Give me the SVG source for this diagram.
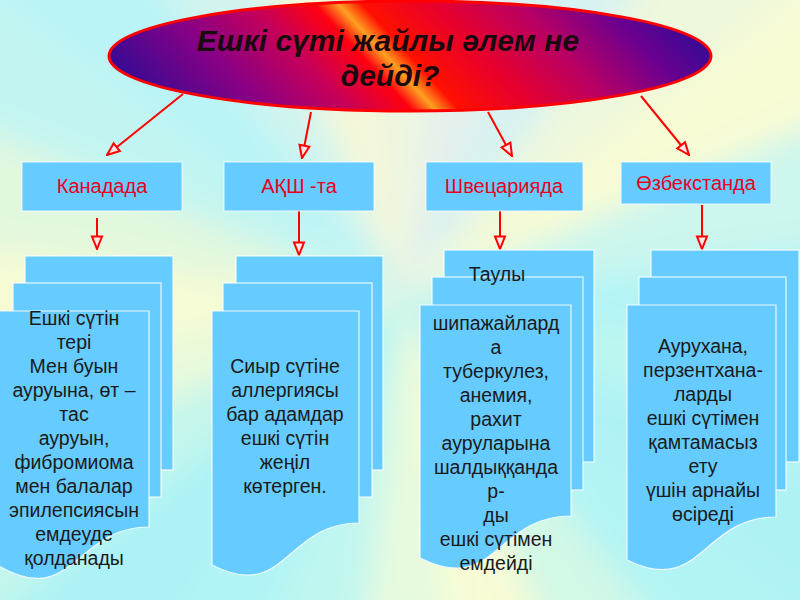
<svg xmlns="http://www.w3.org/2000/svg" xmlns:xlink="http://www.w3.org/1999/xlink" width="800" height="600" viewBox="0 0 800 600">
<defs>
<style>
.hdr{fill:#66CCFF;stroke:#FFFFFF;stroke-width:1;stroke-opacity:0.8}
.doc{fill:#66CCFF;stroke:#FFFFFF;stroke-width:1.2;stroke-opacity:0.85}
.ht{font-family:"Liberation Sans",Arial,sans-serif;font-size:20px;fill:#E8001C;text-anchor:middle}
.bt{font-family:"Liberation Sans",Arial,sans-serif;font-size:19.5px;fill:#1A1A1A;text-anchor:middle}
.tt{font-family:"Liberation Sans",Arial,sans-serif;font-size:30px;font-weight:bold;font-style:italic;fill:#1A0A10;text-anchor:middle}
.con{stroke:#FF0000;stroke-width:2;fill:none;marker-end:url(#ah)}
</style>
<marker id="ah" markerUnits="userSpaceOnUse" markerWidth="15" markerHeight="15" viewBox="0 0 12 10" refX="11" refY="5" orient="auto">
<path d="M1,1 L11,5 L1,9 Z" fill="#FFE6E6" stroke="#FF0000" stroke-width="1.6"/>
</marker>
<linearGradient id="eg" gradientUnits="userSpaceOnUse" x1="108" y1="56" x2="435" y2="-245">
<stop offset="0" stop-color="#3A0A94"/>
<stop offset="0.18" stop-color="#8A0084"/>
<stop offset="0.32" stop-color="#C80058"/>
<stop offset="0.42" stop-color="#FF0010"/>
<stop offset="0.46" stop-color="#FFA020"/>
<stop offset="0.5" stop-color="#FF1000"/>
<stop offset="0.62" stop-color="#E8002C"/>
<stop offset="0.76" stop-color="#B80064"/>
<stop offset="0.9" stop-color="#6A0090"/>
<stop offset="1" stop-color="#3A0A94"/>
</linearGradient>
<path id="w" d="M0,0 L900,-127 L900,127 Z"/>
<filter id="bl" filterUnits="userSpaceOnUse" x="-200" y="-200" width="1200" height="1000">
<feGaussianBlur stdDeviation="16"/>
</filter>
</defs>

<g id="background">
<rect x="0" y="0" width="800" height="600" fill="#BFF5F3"/>
<g filter="url(#bl)">
<use xlink:href="#w" href="#w" transform="translate(403,300) rotate(0)" fill="#B4F4F6"/>
<use xlink:href="#w" href="#w" transform="translate(403,300) rotate(15)" fill="#BCF6F0"/>
<use xlink:href="#w" href="#w" transform="translate(403,300) rotate(30)" fill="#AFF2F6"/>
<use xlink:href="#w" href="#w" transform="translate(403,300) rotate(45)" fill="#B2F4F4"/>
<use xlink:href="#w" href="#w" transform="translate(403,300) rotate(60)" fill="#D2F8E6"/>
<use xlink:href="#w" href="#w" transform="translate(403,300) rotate(75)" fill="#F8FBD4"/>
<use xlink:href="#w" href="#w" transform="translate(403,300) rotate(90)" fill="#E6FADE"/>
<use xlink:href="#w" href="#w" transform="translate(403,300) rotate(105)" fill="#C0F6F0"/>
<use xlink:href="#w" href="#w" transform="translate(403,300) rotate(120)" fill="#B0F4F6"/>
<use xlink:href="#w" href="#w" transform="translate(403,300) rotate(135)" fill="#ACF2F6"/>
<use xlink:href="#w" href="#w" transform="translate(403,300) rotate(150)" fill="#C4F6EC"/>
<use xlink:href="#w" href="#w" transform="translate(403,300) rotate(165)" fill="#EAFADA"/>
<use xlink:href="#w" href="#w" transform="translate(403,300) rotate(180)" fill="#F6FBD4"/>
<use xlink:href="#w" href="#w" transform="translate(403,300) rotate(195)" fill="#E2F8DE"/>
<use xlink:href="#w" href="#w" transform="translate(403,300) rotate(210)" fill="#C2F5F2"/>
<use xlink:href="#w" href="#w" transform="translate(403,300) rotate(225)" fill="#BAF4F6"/>
<use xlink:href="#w" href="#w" transform="translate(403,300) rotate(240)" fill="#D2F4EE"/>
<use xlink:href="#w" href="#w" transform="translate(403,300) rotate(255)" fill="#F6F8D8"/>
<use xlink:href="#w" href="#w" transform="translate(403,300) rotate(270)" fill="#EEF6E0"/>
<use xlink:href="#w" href="#w" transform="translate(403,300) rotate(285)" fill="#E6F0EC"/>
<use xlink:href="#w" href="#w" transform="translate(403,300) rotate(300)" fill="#D6F2F2"/>
<use xlink:href="#w" href="#w" transform="translate(403,300) rotate(315)" fill="#EEF8DC"/>
<use xlink:href="#w" href="#w" transform="translate(403,300) rotate(330)" fill="#F8FBD4"/>
<use xlink:href="#w" href="#w" transform="translate(403,300) rotate(345)" fill="#CCF6EE"/>
</g>
</g>

<g id="title">
<ellipse cx="410" cy="56" rx="301" ry="55" fill="url(#eg)" stroke="#FF0000" stroke-width="3"/>
<text class="tt" x="388" y="51">Ешкі сүті жайлы әлем не</text>
<text class="tt" x="390" y="86">дейді?</text>
</g>

<g id="connectors">
<path class="con" d="M183,94 L107,155"/>
<path class="con" d="M311,112 L302,158"/>
<path class="con" d="M488,112 L512,156"/>
<path class="con" d="M641,96 L689,155"/>
<path class="con" d="M97,218 L97,249"/>
<path class="con" d="M299,211 L299,255"/>
<path class="con" d="M500,211 L500,249"/>
<path class="con" d="M702,205 L702,249"/>
</g>

<g id="h-canada">
<rect class="hdr" x="22" y="162" width="160" height="49"/>
<text class="ht" x="102" y="193">Канадада</text>
</g>
<g id="h-usa">
<rect class="hdr" x="224" y="162" width="150" height="49"/>
<text class="ht" x="299" y="193">АҚШ -та</text>
</g>
<g id="h-swiss">
<rect class="hdr" x="426" y="162" width="157" height="49"/>
<text class="ht" x="504" y="193">Швецарияда</text>
</g>
<g id="h-uzbek">
<rect class="hdr" x="621" y="162" width="150" height="42"/>
<text class="ht" x="696" y="190">Өзбекстанда</text>
</g>

<g id="d-canada">
<rect class="doc" x="25" y="256" width="148" height="214"/>
<rect class="doc" x="13" y="283" width="148" height="214"/>
<path class="doc" d="M-1,311 H149 V527 C74,527 74,609 -1,566 Z"/>
<text class="bt" x="74" y="325">Ешкі сүтін</text>
<text class="bt" x="74" y="349">тері</text>
<text class="bt" x="74" y="373">Мен буын</text>
<text class="bt" x="74" y="397">ауруына, өт –</text>
<text class="bt" x="74" y="421">тас</text>
<text class="bt" x="74" y="445">ауруын,</text>
<text class="bt" x="74" y="469">фибромиома</text>
<text class="bt" x="74" y="493">мен балалар</text>
<text class="bt" x="74" y="517">эпилепсиясын</text>
<text class="bt" x="74" y="541">емдеуде</text>
<text class="bt" x="74" y="565">қолданады</text>
</g>

<g id="d-usa">
<rect class="doc" x="236" y="256" width="147" height="214"/>
<rect class="doc" x="223" y="283" width="149" height="214"/>
<path class="doc" d="M212,311 H359 V523 C285.5,523 285.5,603 212,565 Z"/>
<text class="bt" x="285" y="373">Сиыр сүтіне</text>
<text class="bt" x="285" y="397">аллергиясы</text>
<text class="bt" x="285" y="421">бар адамдар</text>
<text class="bt" x="285" y="445">ешкі сүтін</text>
<text class="bt" x="285" y="469">жеңіл</text>
<text class="bt" x="285" y="493">көтерген.</text>
</g>

<g id="d-swiss">
<rect class="doc" x="444" y="250" width="150" height="212"/>
<rect class="doc" x="432" y="277" width="151" height="213"/>
<path class="doc" d="M420,305 H571 V516 C495.5,516 495.5,596 420,558 Z"/>
<text class="bt" x="497" y="281">Таулы</text>
<text class="bt" x="496" y="330">шипажайлард</text>
<text class="bt" x="496" y="354">а</text>
<text class="bt" x="496" y="378">туберкулез,</text>
<text class="bt" x="496" y="402">анемия,</text>
<text class="bt" x="496" y="426">рахит</text>
<text class="bt" x="496" y="450">ауруларына</text>
<text class="bt" x="496" y="474">шалдыққанда</text>
<text class="bt" x="496" y="498">р-</text>
<text class="bt" x="496" y="522">ды</text>
<text class="bt" x="496" y="546">ешкі сүтімен</text>
<text class="bt" x="496" y="570">емдейді</text>
</g>

<g id="d-uzbek">
<rect class="doc" x="651" y="250" width="148" height="212"/>
<rect class="doc" x="639" y="277" width="147" height="213"/>
<path class="doc" d="M627,305 H776 V517 C701.5,517 701.5,597 627,560 Z"/>
<text class="bt" x="703" y="353">Аурухана,</text>
<text class="bt" x="703" y="377">перзентхана-</text>
<text class="bt" x="703" y="401">ларды</text>
<text class="bt" x="703" y="425">ешкі сүтімен</text>
<text class="bt" x="703" y="449">қамтамасыз</text>
<text class="bt" x="703" y="473">ету</text>
<text class="bt" x="703" y="497">үшін арнайы</text>
<text class="bt" x="703" y="521">өсіреді</text>
</g>
</svg>
